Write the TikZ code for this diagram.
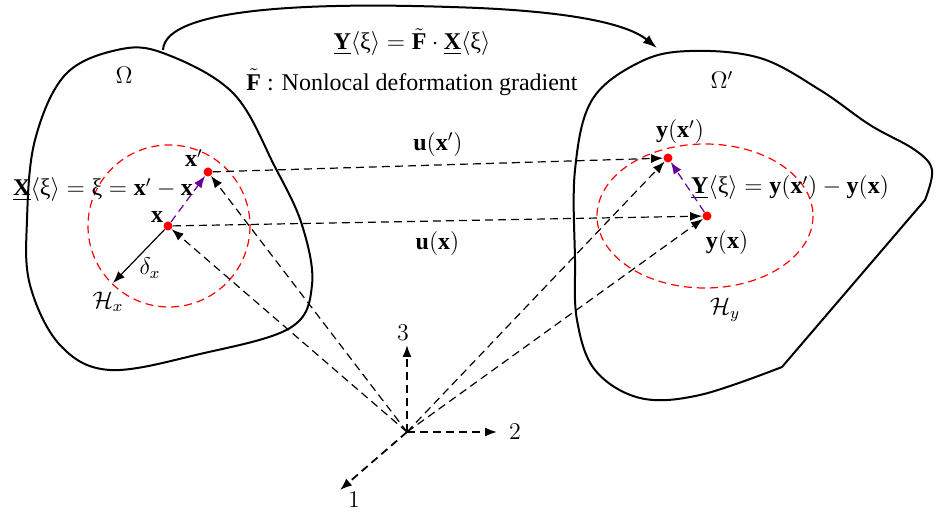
\documentclass[tikz,border=0pt]{standalone}
\usepackage{amsmath}
\usepackage{fontspec}
\setmainfont{Liberation Serif}
\usetikzlibrary{arrows.meta}

\begin{document}
\begin{tikzpicture}[x=0.5pt,y=-0.5pt,font=\large,
  dot/.style={circle,fill=red,inner sep=0pt,minimum size=4.5pt},
  dline/.style={dashed,dash pattern=on 4pt off 2.5pt,line width=0.6pt,-{Latex[length=6pt,width=4.5pt]}},
  pline/.style={dline,violet!80!blue},
  axis/.style={dline,line width=0.9pt},
  zone/.style={red,dashed,dash pattern=on 4pt off 2.5pt,line width=0.6pt},
  blob/.style={line width=1pt},
  lbl/.style={inner sep=1pt}]
\useasboundingbox (0,0) rectangle (943,517);

% the two bodies
\draw[blob] plot[smooth cycle,tension=0.6] coordinates {(117,50) (163,53) (233,93) (275,167) (302,225) (312,285) (290,328) (200,354) (110,370) (60,345) (30,285) (27,220) (35,140) (65,75)};
\draw[blob] plot[smooth,tension=0.6] coordinates {(782,367) (700,395) (640,398) (595,370) (577,320) (575,260) (575,170) (592,100) (640,62) (690,51) (760,58) (820,90) (870,125) (915,150) (932,170) (925,200)} -- (782,367);
\node[lbl] at (124,75) {$\Omega$};
\node[lbl] at (722,80) {$\Omega'$};

% mapping arrow
\coordinate (c0) at (163,50);
\coordinate (c1) at (657,48);
\draw[line width=1pt,-{Latex[length=7pt,width=5pt]}] (c0) .. controls (165,5) and (330,3) .. (450,7) .. controls (560,10) and (625,22) .. (c1);
\node[lbl] (eqF) at (412,42) {$\underline{\textbf{Y}}\langle\text{ξ}\rangle=\tilde{\textbf{F}}\cdot\underline{\textbf{X}}\langle\text{ξ}\rangle$};
\node[lbl] (lblF) at (412,82) {$\tilde{\textbf{F}}$ : Nonlocal deformation gradient};

% horizons
\draw[zone] (169,226) circle (81);
\draw[zone] (705,216) ellipse (108 and 72);

% material points
\node[dot] (x) at (168,226) {};
\node[dot] (xp) at (208,172) {};
\node[dot] (yx) at (707,216) {};
\node[dot] (yxp) at (668,158) {};
\node[lbl] at (157,217) {\textbf{x}};
\node[lbl] at (194,158) {$\textbf{x}'$};
\node[lbl] at (680,132) {$\textbf{y}(\textbf{x}')$};
\node[lbl] at (727,243) {$\textbf{y}(\textbf{x})$};
\node[lbl] at (103,190) {$\underline{\textbf{X}}\langle\text{ξ}\rangle=\text{ξ}=\textbf{x}'-\textbf{x}$};
\node[lbl] at (790,188) {$\underline{\textbf{Y}}\langle\text{ξ}\rangle=\textbf{y}(\textbf{x}')-\textbf{y}(\textbf{x})$};

% bonds
\draw[pline] (x) -- (xp);
\draw[pline] (yx) -- (yxp);

% horizon radius
\coordinate (rim) at (113,283);
\draw[line width=0.6pt,-{Latex[length=6pt,width=4.5pt]}] (x) -- (rim);
\node[lbl] at (150,268) {$\delta_x$};
\node[lbl] at (108,302) {$\mathcal{H}_x$};
\node[lbl] at (725,310) {$\mathcal{H}_y$};

% displacements
\draw[dline] (xp) -- (yxp) node[lbl,midway,above=3pt] {$\textbf{u}(\textbf{x}')$};
\draw[dline] (x) -- (yx) node[lbl,midway,below=4pt] {$\textbf{u}(\textbf{x})$};

% frame
\coordinate (o) at (407,432);
\coordinate (e3) at (407,345);
\coordinate (e2) at (497,432);
\coordinate (e1) at (340,490);
\draw[axis] (o) -- (e3);
\draw[axis] (o) -- (e2);
\draw[axis] (o) -- (e1);
\node[lbl] at (403,333) {$3$};
\node[lbl] at (515,432) {$2$};
\node[lbl] at (354,500) {$1$};

% position vectors
\draw[dline] (o) -- (x);
\draw[dline] (o) -- (xp);
\draw[dline] (o) -- (yx);
\draw[dline] (o) -- (yxp);
\end{tikzpicture}
\end{document}
